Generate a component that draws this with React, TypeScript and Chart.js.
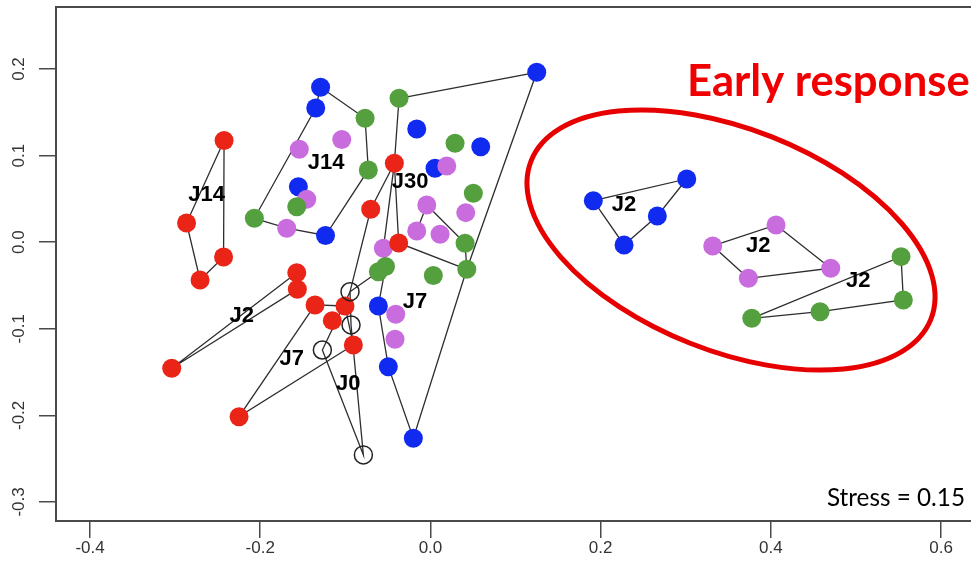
import React, { useEffect, useRef } from 'react';
import { Chart, registerables } from 'chart.js';

Chart.register(...registerables);

type Pt = [number, number];

// NMDS coordinates (NMDS1, NMDS2) of each sample, grouped by colour
const redSamples: Pt[] = [
  [-0.2425, 0.1174], [-0.2866, 0.0222], [-0.2431, -0.0171], [-0.2707, -0.0436],
  [-0.1571, -0.0352], [-0.1564, -0.0544], [-0.1356, -0.0725], [-0.1004, -0.0737],
  [-0.1153, -0.0906], [-0.0906, -0.1187], [-0.304, -0.1456], [-0.2249, -0.2015],
  [-0.0424, 0.0911], [-0.0702, 0.038], [-0.0373, -0.0009],
];

const dayZeroSamples: Pt[] = [
  [-0.0945, -0.0572], [-0.0933, -0.0956], [-0.127, -0.1245], [-0.0788, -0.2457],
];

const blueSamples: Pt[] = [
  [-0.1291, 0.1789], [-0.1348, 0.155], [-0.1552, 0.0641], [-0.1233, 0.0077],
  [-0.0161, 0.1307], [0.0591, 0.1103], [0.0054, 0.0853], [0.1249, 0.1962],
  [-0.0612, -0.0737], [-0.0495, -0.1438], [-0.0201, -0.2264],
  [0.1914, 0.0479], [0.3012, 0.073], [0.2666, 0.0303], [0.2275, -0.0032],
];

const violetSamples: Pt[] = [
  [-0.1541, 0.1073], [-0.1042, 0.1186], [-0.1454, 0.0495], [-0.1689, 0.0161],
  [0.0192, 0.088], [-0.0043, 0.043], [0.0415, 0.0341], [-0.0161, 0.0129],
  [0.0113, 0.0091], [-0.0553, -0.007], [-0.0408, -0.0833], [-0.0416, -0.1121],
  [0.4061, 0.0199], [0.3317, -0.0044], [0.4704, -0.0301], [0.3736, -0.0417],
];

const greenSamples: Pt[] = [
  [-0.0768, 0.1431], [-0.073, 0.0834], [-0.1571, 0.041], [-0.2069, 0.0276],
  [-0.0369, 0.1662], [0.0289, 0.1142], [0.0504, 0.0565], [0.0407, -0.0013],
  [0.0427, -0.0313], [0.0034, -0.0385], [-0.0528, -0.0281], [-0.0612, -0.0341],
  [0.553, -0.0167], [0.5557, -0.0667], [0.4578, -0.0803], [0.3776, -0.0879],
];

// Hull outlines, as sample references: r = red, b = blue, v = violet, g = green, o = day 0
const hullPaths: string[][] = [
  ['r0', 'r1', 'r3', 'r2', 'r0'],
  ['r10', 'r4', 'r5', 'r10'],
  ['r6', 'r11', 'r9', 'r7', 'r6'],
  ['o0', 'o2', 'o3', 'o1', 'o0'],
  ['b0', 'g0', 'g1', 'b3', 'v3', 'g3', 'b1', 'b0'],
  ['b11', 'b12', 'b13', 'b14', 'b11'],
  ['v13', 'v12', 'v14', 'v15', 'v13'],
  ['g15', 'g12', 'g13', 'g14', 'g15'],
  ['g4', 'b7', 'g8', 'r14', 'r12', 'g4'],
  ['r12', 'v9', 'g10'],
  ['r12', 'r13', 'o0', 'g11'],
  ['g10', 'b8', 'b9', 'b10', 'g8'],
  ['v7', 'v5', 'g7', 'g8'],
];

// Group labels placed at hull centres
const groupLabels = ['J14', 'J14', 'J30', 'J7', 'J2', 'J7', 'J0', 'J2', 'J2', 'J2'];
const groupLabelX = [-0.2629, -0.1227, -0.024, -0.0181, -0.2217, -0.163, -0.0965, 0.2275, 0.3853, 0.5028];
const groupLabelY = [0.0545, 0.0911, 0.0699, -0.0687, -0.0852, -0.1352, -0.1637, 0.043, -0.0044, -0.0448];

// Axis ticks
const xTicks = [-0.4, -0.2, 0.0, 0.2, 0.4, 0.6];
const yTicks = [-0.3, -0.2, -0.1, 0.0, 0.1, 0.2];

// Early-response cluster outline centre (NMDS units)
const earlyCentre: Pt = [0.3532, 0.0025];
const stressValue = 0.15;

const pools: Record<string, Pt[]> = {
  r: redSamples,
  b: blueSamples,
  v: violetSamples,
  g: greenSamples,
  o: dayZeroSamples,
};

const resolve = (key: string) => {
  const p = pools[key[0]][parseInt(key.slice(1), 10)];
  return { x: p[0], y: p[1] };
};

const toXY = (pts: Pt[]) => pts.map(([x, y]) => ({ x, y }));

const axisColor = '#4a4a4a';
const tickFamily = '"Liberation Sans", Arial, Helvetica, sans-serif';
const tickFont = { family: tickFamily, size: 17 };

const decorations = {
  id: 'decorations',
  afterDraw(chart: any) {
    const { ctx, chartArea, scales } = chart;
    const xs = scales.x;
    const ys = scales.y;
    ctx.save();

    // top frame line
    ctx.strokeStyle = axisColor;
    ctx.lineWidth = 2;
    ctx.beginPath();
    ctx.moveTo(chartArea.left, chartArea.top);
    ctx.lineTo(chartArea.right, chartArea.top);
    ctx.stroke();

    // x tick labels
    ctx.fillStyle = '#333';
    ctx.font = `17px ${tickFamily}`;
    ctx.textAlign = 'center';
    ctx.textBaseline = 'middle';
    xs.ticks.forEach((t: any) => {
      ctx.fillText(Number(t.value).toFixed(1), xs.getPixelForValue(t.value), 548);
    });

    // group labels
    ctx.fillStyle = '#000';
    ctx.font = 'bold 22px "Liberation Sans", Arial, sans-serif';
    groupLabels.forEach((t, i) => {
      ctx.fillText(t, xs.getPixelForValue(groupLabelX[i]), ys.getPixelForValue(groupLabelY[i]));
    });

    // early response outline
    ctx.strokeStyle = '#e60000';
    ctx.lineWidth = 5;
    ctx.beginPath();
    ctx.ellipse(
      xs.getPixelForValue(earlyCentre[0]),
      ys.getPixelForValue(earlyCentre[1]),
      215, 111, (21.6 * Math.PI) / 180, 0, Math.PI * 2
    );
    ctx.stroke();

    // early response caption
    ctx.fillStyle = '#f00000';
    ctx.textAlign = 'left';
    ctx.textBaseline = 'alphabetic';
    const caption = 'Early response';
    ctx.font = 'bold 40px Lato, "Open Sans", sans-serif';
    const w40 = ctx.measureText(caption).width;
    const capSize = (40 * 283) / w40;
    ctx.font = `bold ${capSize.toFixed(1)}px Lato, "Open Sans", sans-serif`;
    ctx.fillText(caption, 687, 96);

    // stress
    const stressText = `Stress = ${stressValue.toFixed(2)}`;
    ctx.fillStyle = '#000';
    ctx.textAlign = 'right';
    ctx.font = '24px Lato, "Open Sans", sans-serif';
    const w24 = ctx.measureText(stressText).width;
    const sSize = (24 * 138) / w24;
    ctx.font = `${sSize.toFixed(1)}px Lato, "Open Sans", sans-serif`;
    ctx.fillText(stressText, 965, 506);

    ctx.restore();
  },
};

export default function App() {
  const canvasRef = useRef<HTMLCanvasElement | null>(null);

  useEffect(() => {
    if (!canvasRef.current) return;

    const hullDatasets = hullPaths.map((path) => ({
      type: 'scatter' as const,
      data: path.map(resolve),
      showLine: true,
      borderColor: '#2e2e2e',
      borderWidth: 1.3,
      pointRadius: 0,
      fill: false,
      order: 10,
    }));

    const pointSet = (pts: Pt[], color: string, order: number) => ({
      type: 'scatter' as const,
      data: toXY(pts),
      pointRadius: 9.5,
      pointBackgroundColor: color,
      pointBorderWidth: 0,
      borderWidth: 0,
      showLine: false,
      order,
    });

    const chart = new Chart(canvasRef.current, {
      type: 'scatter',
      data: {
        datasets: [
          ...hullDatasets,
          pointSet(blueSamples, 'rgb(16,42,240)', 5),
          pointSet(violetSamples, 'rgb(200,108,222)', 4),
          pointSet(greenSamples, 'rgb(84,160,62)', 3),
          pointSet(redSamples, 'rgb(234,36,22)', 2),
          {
            type: 'scatter' as const,
            data: toXY(dayZeroSamples),
            pointRadius: 9,
            pointBackgroundColor: 'rgba(0,0,0,0)',
            pointBorderColor: '#222',
            pointBorderWidth: 1.5,
            showLine: false,
            order: 1,
          },
        ] as any,
      },
      options: {
        animation: false,
        responsive: false,
        devicePixelRatio: 1,
        events: [],
        layout: { autoPadding: false, padding: { top: 7, left: 0, right: 0, bottom: 0 } },
        plugins: { legend: { display: false }, tooltip: { enabled: false } },
        scales: {
          x: {
            type: 'linear',
            min: -0.44,
            max: 0.6352,
            afterFit: (s: any) => {
              s.height = 65;
              s.paddingLeft = 0;
              s.paddingRight = 0;
            },
            afterBuildTicks: (s: any) => { s.ticks = xTicks.map((v) => ({ value: v })); },
            ticks: { display: false, autoSkip: false },
            grid: { drawOnChartArea: false, drawTicks: true, tickLength: 17, color: axisColor, lineWidth: 1.5 },
            border: { display: true, color: axisColor, width: 2 },
          },
          y: {
            type: 'linear',
            min: -0.322,
            max: 0.2716,
            afterFit: (s: any) => {
              s.width = 56;
              s.paddingTop = 0;
              s.paddingBottom = 0;
            },
            afterBuildTicks: (s: any) => { s.ticks = yTicks.map((v) => ({ value: v })); },
            ticks: {
              callback: (v: any) => Number(v).toFixed(1),
              font: tickFont,
              color: '#333',
              padding: 5,
              minRotation: 90,
              maxRotation: 90,
              crossAlign: 'center',
              autoSkip: false,
            },
            grid: { drawOnChartArea: false, drawTicks: true, tickLength: 17, color: axisColor, lineWidth: 1.5 },
            border: { display: true, color: axisColor, width: 2 },
          },
        },
      } as any,
      plugins: [decorations],
    });

    return () => chart.destroy();
  }, []);

  return (
    <div style={{ position: 'fixed', left: 0, top: 0, width: 971, height: 586, background: '#fff' }}>
      <canvas ref={canvasRef} width={971} height={586} style={{ display: 'block' }} />
    </div>
  );
}
